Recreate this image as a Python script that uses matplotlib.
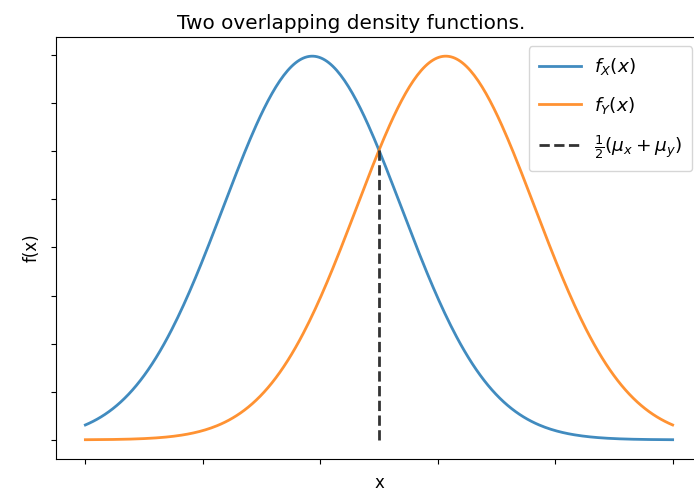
import numpy as np
import matplotlib.pyplot as plt

# parameters of the two normal densities
mu_x = -0.75
mu_y = 0.75
sigma = 1.0
x_lo, x_hi = -3.3, 3.3

def normal_pdf(x, mu, s):
    return np.exp(-0.5 * ((x - mu) / s) ** 2) / (s * np.sqrt(2 * np.pi))

x = np.linspace(x_lo, x_hi, 300)
fx = normal_pdf(x, mu_x, sigma)
fy = normal_pdf(x, mu_y, sigma)
mid = 0.5 * (mu_x + mu_y)
mid_val = normal_pdf(mid, mu_x, sigma)

fig = plt.figure(figsize=(6.94, 5.03), dpi=100)
# the original picture is cropped on the right, so the axes run past the edge
ax = fig.add_axes([56 / 694, 44 / 503, 646 / 694, 422 / 503])
ax.spines['right'].set_visible(False)

ax.plot(x, fx, lw=2, alpha=0.85, label=r'$f_X(x)$')
ax.plot(x, fy, lw=2, alpha=0.85, label=r'$f_Y(x)$')
ax.vlines(mid, 0, mid_val, colors='#333333', linestyles='--', lw=2,
          label=r'$\frac{1}{2}(\mu_x + \mu_y)$')

ax.set_xticks(np.linspace(x_lo, x_hi, 6))
ax.set_yticks(np.arange(0, 0.41, 0.05))
ax.set_xticklabels([])
ax.set_yticklabels([])
ax.set_xlabel('x', fontsize=12)
ax.set_ylabel('f(x)', fontsize=12)
# title is centred on the uncropped figure, not on the visible axes
ax.set_title('Two overlapping density functions.', fontsize=14.4, x=0.457)
ax.legend(loc='upper right', bbox_to_anchor=(0.985, 0.979), borderaxespad=0,
          fontsize=13.3, handlelength=2.3, borderpad=0.55, labelspacing=0.95,
          handletextpad=0.7)

fig.savefig('out.png', dpi=100)
